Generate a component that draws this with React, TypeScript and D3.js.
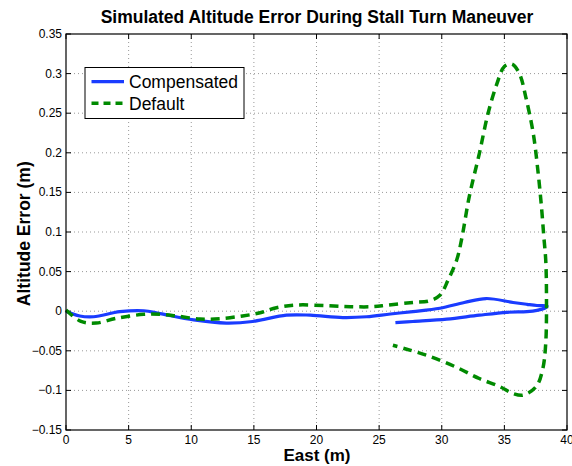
import React from "react";
import * as d3 from "d3";

const xTicks = [0, 5, 10, 15, 20, 25, 30, 35, 40];
const yTicks = [-0.15, -0.1, -0.05, 0, 0.05, 0.1, 0.15, 0.2, 0.25, 0.3, 0.35];

const compX = [0, 1.1, 2.2, 4.3, 6.2, 7.5, 10.2, 12.8, 14.9, 17.6, 19.5, 22.1, 24.0, 25.9, 27.7, 29.85, 31.8, 33.55, 35.7, 36.8, 37.6, 38.4, 38.3, 37.6, 36.8, 35.2, 33.0, 30.4, 27.7, 26.3];
const compY = [0, -0.006, -0.007, -0.0006, 0.0006, -0.003, -0.011, -0.015, -0.013, -0.005, -0.005, -0.008, -0.007, -0.0035, -0.0005, 0.0037, 0.011, 0.016, 0.011, 0.0087, 0.0072, 0.0066, 0.0045, 0.001, -0.0006, -0.0014, -0.005, -0.010, -0.013, -0.0145];

const defX = [0, 1.2, 2.4, 4.0, 6.2, 7.5, 8.8, 10.7, 12.3, 14.1, 15.5, 16.8, 18.4, 20.8, 22.7, 24.5, 25.7, 27.7, 29.0, 29.85, 30.5, 31.2, 31.6, 32.2, 33.0, 33.7, 34.4, 35.0, 35.6, 36.2, 36.7, 37.3, 37.7, 37.96, 38.15, 38.3, 38.36, 38.3, 38.05, 37.55, 36.5, 35.7, 34.6, 33.0, 31.2, 29.05, 27.2, 26.1];
const defY = [0.0015, -0.013, -0.015, -0.009, -0.004, -0.004, -0.006, -0.010, -0.0095, -0.006, -0.002, 0.0044, 0.0078, 0.007, 0.0057, 0.0057, 0.0078, 0.011, 0.013, 0.020, 0.039, 0.065, 0.092, 0.145, 0.199, 0.25, 0.287, 0.309, 0.312, 0.300, 0.271, 0.225, 0.174, 0.132, 0.094, 0.065, 0.023, -0.041, -0.074, -0.095, -0.106, -0.104, -0.095, -0.085, -0.071, -0.057, -0.048, -0.043];

const seriesNames = ["Compensated", "Default"];

const W = 572, H = 466;
const L = 66, R = 567, T = 34, B = 430;
const FONT = "'Liberation Sans', Arial, Helvetica, sans-serif";
const BLUE = "#1a3cff";
const GREEN = "#008a00";

function fmt(v: number) {
  const s = d3.format("")(+v.toFixed(2));
  return s.replace("-", "\u2212");
}

export default function App() {
  const x = d3.scaleLinear().domain([0, 40]).range([L, R]);
  const y = d3.scaleLinear().domain([-0.15, 0.35]).range([B, T]);
  const line = d3.line<[number, number]>().x(d => x(d[0])).y(d => y(d[1])).curve(d3.curveCatmullRom.alpha(0.5));
  const comp = compX.map((v, i) => [v, compY[i]] as [number, number]);
  const def = defX.map((v, i) => [v, defY[i]] as [number, number]);
  const tl = 5;
  return (
    <svg width={W} height={H} style={{ position: "absolute", left: 0, top: 0, background: "#fff" }} fontFamily={FONT}>
      <rect x={0} y={0} width={W} height={H} fill="#fff" />
      {xTicks.slice(1, -1).map(t => (
        <line key={"gx" + t} x1={x(t)} x2={x(t)} y1={T} y2={B} stroke="#999" strokeWidth={1} strokeDasharray="1,3" />
      ))}
      {yTicks.slice(1, -1).map(t => (
        <line key={"gy" + t} x1={L} x2={R} y1={y(t)} y2={y(t)} stroke="#999" strokeWidth={1} strokeDasharray="1,3" />
      ))}
      {xTicks.map(t => (
        <g key={"tx" + t}>
          <line x1={x(t)} x2={x(t)} y1={B} y2={B - tl} stroke="#000" />
          <line x1={x(t)} x2={x(t)} y1={T} y2={T + tl} stroke="#000" />
          <text x={x(t)} y={444} fontSize={12} textAnchor="middle">{fmt(t)}</text>
        </g>
      ))}
      {yTicks.map(t => (
        <g key={"ty" + t}>
          <line x1={L} x2={L + tl} y1={y(t)} y2={y(t)} stroke="#000" />
          <line x1={R} x2={R - tl} y1={y(t)} y2={y(t)} stroke="#000" />
          <text x={62} y={y(t) + 4} fontSize={12} textAnchor="end">{fmt(t)}</text>
        </g>
      ))}
      <path d={line(comp) || ""} fill="none" stroke={BLUE} strokeWidth={3.2} strokeLinejoin="round" />
      <path d={line(def) || ""} fill="none" stroke={GREEN} strokeWidth={3.5} strokeDasharray="9,6" />
      <rect x={L} y={T} width={R - L} height={B - T} fill="none" stroke="#000" strokeWidth={1.2} />
      <rect x={85} y={67.5} width={159} height={51} fill="#fff" stroke="#000" strokeWidth={1} />
      <line x1={91.5} x2={124} y1={81.7} y2={81.7} stroke={BLUE} strokeWidth={3.2} />
      <text x={129} y={88} fontSize={17.5}>{seriesNames[0]}</text>
      <line x1={91.5} x2={124} y1={103.3} y2={103.3} stroke={GREEN} strokeWidth={3.5} strokeDasharray="7,5" />
      <text x={129} y={110} fontSize={17.5}>{seriesNames[1]}</text>
      <text x={317} y={23.3} fontSize={17.5} fontWeight="bold" textAnchor="middle">Simulated Altitude Error During Stall Turn Maneuver</text>
      <text x={317} y={461} fontSize={17} fontWeight="bold" textAnchor="middle">East (m)</text>
      <text transform={`translate(30,${233.7}) rotate(-90)`} fontSize={17.5} fontWeight="bold" textAnchor="middle">Altitude Error (m)</text>
    </svg>
  );
}
